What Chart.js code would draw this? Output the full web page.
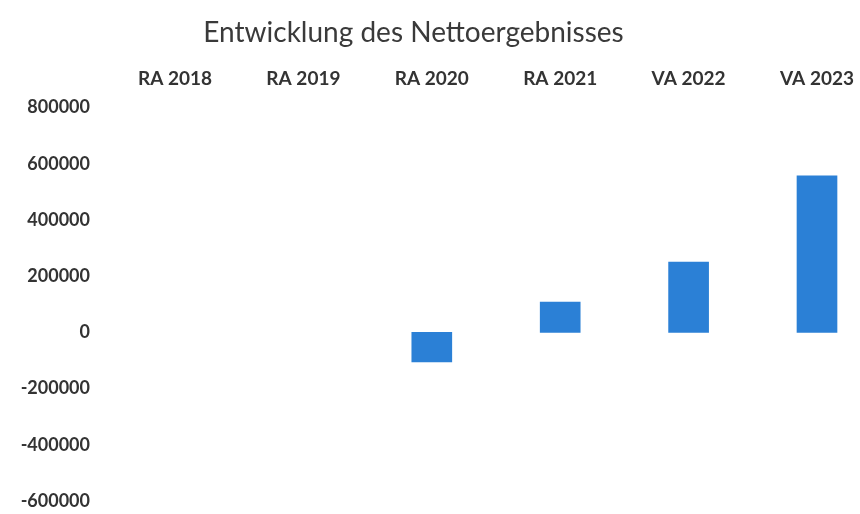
<!DOCTYPE html>
<html>
<head>
<meta charset="utf-8">
<script src="https://cdn.jsdelivr.net/npm/chart.js@4"></script>
<style>
  html, body { margin: 0; padding: 0; background: #fff; }
  #wrap { width: 860px; height: 514px; }
</style>
</head>
<body>
<div id="wrap"><canvas id="myChart"></canvas></div>
<script>
// Data
var categories = ['RA 2018', 'RA 2019', 'RA 2020', 'RA 2021', 'VA 2022', 'VA 2023'];
var netResult = [null, null, -105000, 108000, 250000, 557000];
var yTicks = [-600000, -400000, -200000, 0, 200000, 400000, 600000, 800000];

var fontFamily = "Lato, 'Liberation Sans', sans-serif";

new Chart("myChart", {
    type: "bar",
    data: {
        labels: categories,
        datasets: [{
            label: 'Nettoergebnis',
            data: netResult,
            backgroundColor: "#2b80d6",
            borderWidth: 0,
            barThickness: 40,
            clip: false
        }]
    },
    options: {
        responsive: true,
        maintainAspectRatio: false,
        animation: false,
        layout: {
            padding: { left: 10, right: 43, top: 2, bottom: 13 }
        },
        plugins: {
            legend: { display: false },
            tooltip: { enabled: false },
            title: {
                display: true,
                text: 'Entwicklung des Nettoergebnisses',
                color: "#3a3a3a",
                font: { family: fontFamily, size: 28, weight: 'normal' },
                padding: { top: 14, bottom: 18 }
            }
        },
        scales: {
            x: {
                position: 'top',
                offset: false,
                grid: { display: false, drawTicks: false },
                border: { display: false },
                afterFit: function (scale) {
                    scale.height = 40;
                    scale.paddingLeft = 0;
                    scale.paddingRight = 0;
                },
                ticks: {
                    color: "#333",
                    padding: 17,
                    maxRotation: 0,
                    autoSkip: false,
                    font: { family: fontFamily, size: 19, weight: 'bold' }
                }
            },
            y: {
                min: yTicks[0],
                max: yTicks[yTicks.length - 1],
                grid: { display: false, drawTicks: false },
                border: { display: false },
                afterFit: function (scale) {
                    scale.width = 165;
                    scale.paddingTop = 0;
                    scale.paddingBottom = 0;
                },
                afterBuildTicks: function (scale) {
                    scale.ticks = yTicks.map(function (v) { return { value: v }; });
                },
                ticks: {
                    color: "#333",
                    padding: 85,
                    font: { family: fontFamily, size: 18, weight: 'bold' },
                    callback: function (v) { return String(v); }
                }
            }
        }
    }
});
</script>
</body>
</html>
